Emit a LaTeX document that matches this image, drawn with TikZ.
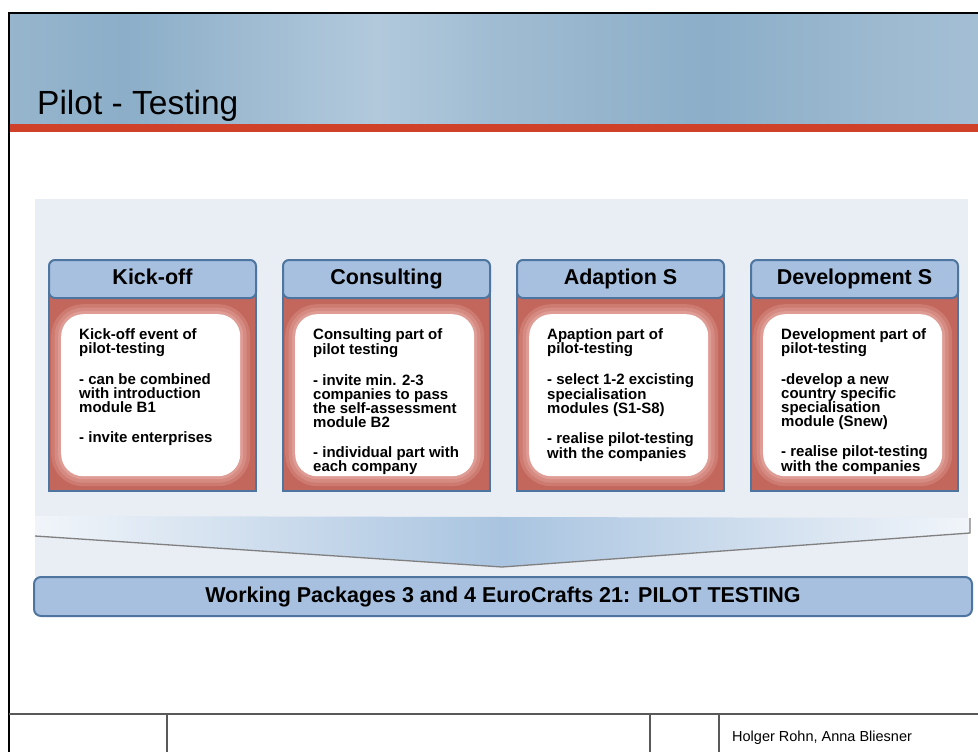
\documentclass[tikz,border=0pt]{standalone}
\usepackage{fontspec}
\setmainfont{Liberation Sans}
\usepackage{tikz}

\definecolor{bandA}{HTML}{A0BCD2}
\definecolor{bandB}{HTML}{B2C9DC}
\definecolor{bandC}{HTML}{8CAEC8}
\definecolor{bleuclair}{HTML}{A7C0DF}
\definecolor{bleucadre}{HTML}{4D75A0}
\definecolor{rougecorps}{HTML}{C3675D}
\definecolor{rougehalo}{HTML}{CD7A70}
\definecolor{rougehalob}{HTML}{D68B82}
\definecolor{rougehaloc}{HTML}{DE9C94}
\definecolor{rougebarre}{HTML}{CF4128}
\definecolor{fondpanneau}{HTML}{E9EDF4}
\definecolor{flechebl}{HTML}{A9C4E0}
\definecolor{flecheclair}{HTML}{F1F5FA}

\pgfdeclarehorizontalshading{bandeau}{100bp}{color(0bp)=(bandA); color(14bp)=(bandB);
  color(20bp)=(bandA); color(31bp)=(bandC); color(44bp)=(bandB); color(50bp)=(bandA);
  color(61bp)=(bandC); color(72bp)=(bandA); color(85bp)=(bandB); color(100bp)=(bandB)}

\begin{document}
\begin{tikzpicture}[x=1pt, y=-1pt]
\tikzset{entete/.style={draw=bleucadre, fill=bleuclair, line width=2pt, rounded corners=6pt,
    minimum width=207pt, minimum height=38pt, text height=15.5pt, text depth=4.5pt,
    anchor=north west, font=\fontsize{21.5}{24}\selectfont\bfseries},
  corps/.style={draw=bleucadre, fill=rougecorps, line width=2pt, minimum width=207pt,
    minimum height=200pt, anchor=north west},
  bulle/.style={fill=white, rounded corners=22pt, minimum width=179pt, minimum height=162pt,
    anchor=north west, preaction={draw=rougehalo, line width=20pt},
    preaction={draw=rougehalob, line width=13pt}, preaction={draw=rougehaloc, line width=6pt}},
  texte/.style={anchor=north west, inner sep=0pt, align=left, font=\fontsize{15}{14}\selectfont\bfseries}}
\useasboundingbox (0,0) rectangle (978,752);
\fill[white] (0,0) rectangle (978,752);
% bandeau du titre
\shade[shading=bandeau] (9,13) rectangle (978,124);
\fill[rougebarre] (9,124) rectangle (978,132);
\draw[line width=2pt] (9,752) -- (9,13) -- (978,13);
\node[anchor=base west, inner sep=0pt, font=\fontsize{33.5}{36}\selectfont] (titre) at (37,114) {Pilot - Testing};
% panneau
\fill[fondpanneau] (35,199) rectangle (968,577);
\node[corps] (C1) at (48,290) {};
\node[corps] (C2) at (282,290) {};
\node[corps] (C3) at (516,290) {};
\node[corps] (C4) at (750,290) {};
\node[entete] (H1) at (48,259) {Kick-off};
\node[entete] (H2) at (282,259) {Consulting};
\node[entete] (H3) at (516,259) {Adaption S};
\node[entete] (H4) at (750,259) {Development S};
\node[bulle] (B1) at (61,314) {};
\node[bulle] (B2) at (295,314) {};
\node[bulle] (B3) at (529,314) {};
\node[bulle] (B4) at (763,314) {};
\node[texte] (T1) at (79,328) {Kick-off event of\\pilot-testing\\[16pt]- can be combined\\with introduction\\module B1\\[16pt]- invite enterprises};
\node[texte] (T2) at (313,328) {Consulting part of\\pilot testing\\[16pt]- invite min. 2-3\\companies to pass\\the self-assessment\\module B2\\[16pt]- individual part with\\each company};
\node[texte] (T3) at (547,328) {Apaption part of\\pilot-testing\\[16pt]- select 1-2 excisting\\specialisation\\modules (S1-S8)\\[16pt]- realise pilot-testing\\with the companies};
\node[texte] (T4) at (781,328) {Development part of\\pilot-testing\\[16pt]-develop a new\\country specific\\specialisation\\module (Snew)\\[16pt]- realise pilot-testing\\with the companies};
% fleche
\shade[left color=flecheclair, right color=flecheclair, middle color=flechebl]
  (35,516) -- (970,518) -- (970,533) -- (502,567) -- (35,536) -- cycle;
\draw[gray, line width=1.3pt] (35,536) -- (502,567) -- (970,533) -- (970,518);
\node[draw=bleucadre, fill=bleuclair, line width=2pt, rounded corners=7pt, minimum width=938pt,
  minimum height=39pt, font=\fontsize{21.5}{24}\selectfont\bfseries] (WP) at (503,596.5)
  {Working Packages 3 and 4 EuroCrafts 21: PILOT TESTING};
% pied de page
\draw[black!65, line width=1.5pt] (9,714) -- (978,714);
\draw[black!65, line width=1.2pt] (167,714) -- (167,752);
\draw[black!65, line width=1.2pt] (650,714) -- (650,752);
\draw[black!65, line width=1.2pt] (719,714) -- (719,752);
\node[anchor=west, inner sep=0pt, font=\fontsize{14.5}{16}\selectfont] (auteurs) at (732,738) {Holger Rohn, Anna Bliesner};
\end{tikzpicture}
\end{document}
